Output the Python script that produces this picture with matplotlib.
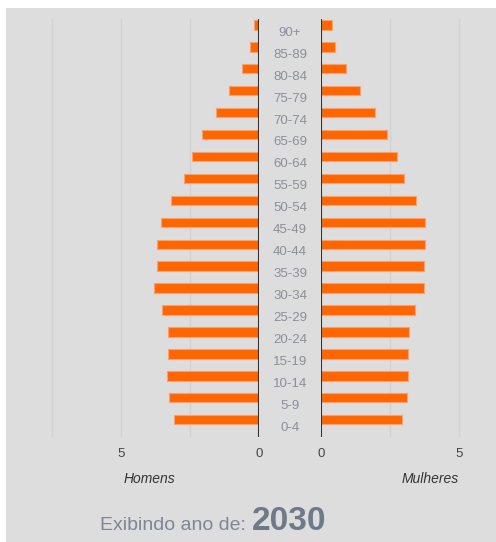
import matplotlib.pyplot as plt
import matplotlib.transforms as mtransforms
from matplotlib.patches import Rectangle

plt.rcParams["font.family"] = ["Liberation Sans", "DejaVu Sans"]

# population share (%) per age group, 2030
faixas = ["0-4", "5-9", "10-14", "15-19", "20-24", "25-29", "30-34", "35-39",
          "40-44", "45-49", "50-54", "55-59", "60-64", "65-69", "70-74",
          "75-79", "80-84", "85-89", "90+"]
homens = [3.07, 3.25, 3.33, 3.29, 3.29, 3.50, 3.78, 3.68, 3.68, 3.55,
          3.19, 2.70, 2.40, 2.05, 1.55, 1.06, 0.62, 0.31, 0.17]
mulheres = [2.91, 3.09, 3.14, 3.14, 3.19, 3.41, 3.72, 3.72, 3.77, 3.77,
            3.44, 3.01, 2.73, 2.38, 1.93, 1.40, 0.91, 0.51, 0.38]
ano = "2030"

W, H = 496, 542
PX_PER_UNIT = 27.6
BAR = "#ff6600"
EDGE = "#f9a070"
GRID = "#d2d2d2"
BG = "#dddddd"


def fx(x):
    return x / W


def fy(y):
    return 1 - y / H


fig = plt.figure(figsize=(W / 100, H / 100), dpi=100, facecolor="white")
fig.patches.append(Rectangle((fx(6), 0), 1 - fx(6), fy(8), transform=fig.transFigure,
                             facecolor=BG, edgecolor="none", zorder=-10))

top, bottom = 19, 437
ax_h = fig.add_axes([fx(6), fy(bottom), fx(258.7 - 6), (bottom - top) / H])
ax_m = fig.add_axes([fx(321.3), fy(bottom), fx(W - 321.3), (bottom - top) / H])

y = list(range(len(faixas)))
ylim = (-0.79, 18.27)

for ax, vals in [(ax_h, homens), (ax_m, mulheres)]:
    ax.set_facecolor("none")
    for g in [2.5, 5, 7.5]:
        ax.axvline(g, color=GRID, lw=1, zorder=0)
    ax.barh(y, vals, height=0.43, color=BAR, edgecolor=EDGE, linewidth=0.8, zorder=2)
    ax.axvline(0, color="#333333", lw=1.5, zorder=3)
    ax.set_ylim(*ylim)
    ax.set_xticks([0, 5])
    ax.set_xticklabels(["0", "5"])
    ax.set_yticks([])
    ax.tick_params(axis="x", length=0, pad=8, labelsize=9.5, labelcolor="#444444")
    for s in ax.spines.values():
        s.set_visible(False)

ax_h.set_xlim((258.7 - 6) / PX_PER_UNIT, 0)
ax_m.set_xlim(0, (W - 321.3) / PX_PER_UNIT)

# age group labels between the two halves
trans = mtransforms.blended_transform_factory(fig.transFigure, ax_h.transData)
for i, f in enumerate(faixas):
    ax_h.text(fx(290), i - 0.36, f, transform=trans, ha="center", va="center",
              fontsize=9.5, color="#8a8f99", clip_on=False)

fig.text(fx(124), fy(483), "Homens", ha="left", va="baseline",
         fontsize=10, style="italic", color="#333333")
fig.text(fx(459), fy(483), "Mulheres", ha="right", va="baseline",
         fontsize=10, style="italic", color="#333333")

fig.text(fx(100), fy(530), "Exibindo ano de:", ha="left", va="baseline",
         fontsize=14, color="#7d8795")
fig.text(fx(252), fy(530), ano, ha="left", va="baseline",
         fontsize=24, fontweight="bold", color="#6f7a89")

fig.savefig("out.png", dpi=100)
